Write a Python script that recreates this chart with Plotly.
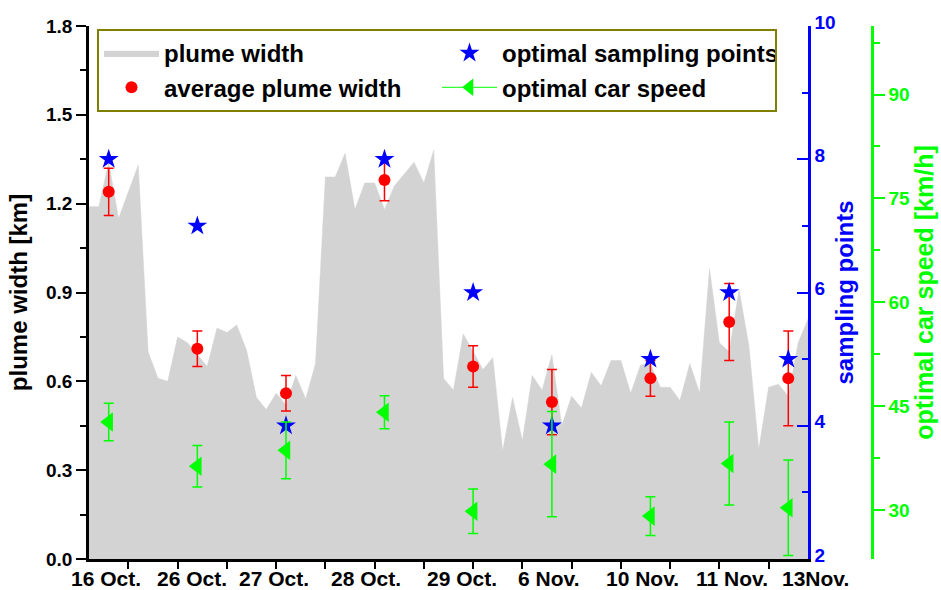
import plotly.graph_objects as go

# Plume width along the measurement track (km), one sample every 0.2 track units
plume_width = [
    1.19, 1.19, 1.34, 1.15, 1.24, 1.33, 0.70, 0.61, 0.60, 0.75,
    0.73, 0.69, 0.65, 0.78, 0.765, 0.79, 0.705, 0.545, 0.505, 0.56,
    0.52, 0.62, 0.54, 0.66, 1.29, 1.29, 1.37, 1.18, 1.27, 1.27,
    1.18, 1.26, 1.30, 1.34, 1.27, 1.38, 0.61, 0.57, 0.76, 0.70,
    0.64, 0.68, 0.365, 0.545, 0.40, 0.62, 0.57, 0.69, 0.45, 0.55,
    0.51, 0.63, 0.585, 0.67, 0.67, 0.56, 0.655, 0.66, 0.58, 0.58,
    0.535, 0.66, 0.56, 0.98, 0.73, 0.70, 0.91, 0.72, 0.37, 0.58,
    0.59, 0.55, 0.73, 0.81,
]
track_x = [round(0.2 * (i + 1), 1) for i in range(len(plume_width))]

# Measurement days
days = ["16 Oct.", "26 Oct.", "27 Oct.", "28 Oct.", "29 Oct.",
        "6 Nov.", "10 Nov.", "11 Nov.", "13Nov."]
day_x = [0.6, 2.4, 4.2, 6.2, 8.0, 9.6, 11.6, 13.2, 14.4]
day_label_x = [0.55, 2.30, 3.96, 5.83, 7.77, 9.53, 11.44, 13.26, 14.95]

avg_width = [1.24, 0.71, 0.56, 1.28, 0.65, 0.53, 0.61, 0.80, 0.61]
avg_width_err = [0.08, 0.06, 0.06, 0.07, 0.07, 0.11, 0.06, 0.13, 0.16]

sampling_points = [8, 7, 4, 8, 6, 4, 5, 6, 5]

car_speed = [42.7, 36.3, 38.6, 44.1, 29.8, 36.6, 29.1, 36.7, 30.3]
car_speed_err = [2.7, 3.0, 4.1, 2.4, 3.2, 7.6, 2.8, 6.0, 6.9]

FONT = "Liberation Sans, Arial, sans-serif"
BLUE = "#0000ff"
GREEN = "#00ff00"
GRAY = "#d3d3d3"

X_RANGE = [0.2, 14.8]
DOM_END = (808 - 89) / 852

fig = go.Figure()

fig.add_trace(go.Scatter(
    x=track_x, y=plume_width, name="plume width",
    mode="lines", fill="tozeroy", fillcolor=GRAY,
    line=dict(color=GRAY, width=0.5), legendrank=1,
))
fig.add_trace(go.Scatter(
    x=day_x, y=car_speed, name="optimal car speed", yaxis="y3",
    mode="markers", showlegend=False, legendgroup="speed",
    marker=dict(symbol="triangle-left", size=17, color=GREEN),
    error_y=dict(type="data", array=car_speed_err, color=GREEN,
                 thickness=1.5, width=5),
))
# legend entry for the speed series: marker on a short line
fig.add_trace(go.Scatter(
    x=[None], y=[None], name="optimal car speed", yaxis="y3",
    mode="lines+markers", legendgroup="speed", legendrank=4,
    line=dict(color=GREEN, width=1),
    marker=dict(symbol="triangle-left", size=15, color=GREEN),
))
fig.add_trace(go.Scatter(
    x=day_x, y=avg_width, name="average plume width",
    mode="markers", legendrank=3,
    marker=dict(symbol="circle", size=12, color="red"),
    error_y=dict(type="data", array=avg_width_err, color="red",
                 thickness=1.5, width=5),
))
fig.add_trace(go.Scatter(
    x=day_x, y=sampling_points, name="optimal sampling points", yaxis="y2",
    mode="markers", legendrank=2,
    marker=dict(symbol="star", size=15, color=BLUE),
))

tick_font = dict(family=FONT, size=19, weight="bold")
title_font = dict(family=FONT, size=24, weight="bold")

# day labels under the track axis (in paper units so the last one may overhang)
for name, xv in zip(days, day_label_x):
    px = DOM_END * (xv - X_RANGE[0]) / (X_RANGE[1] - X_RANGE[0])
    fig.add_annotation(
        x=px, xref="paper", y=0, yref="paper", yshift=-19,
        yanchor="middle", xanchor="center", showarrow=False, text=name,
        borderpad=0,
        font=dict(family=FONT, size=21, weight="bold", color="black"),
    )

fig.update_layout(
    width=941, height=590,
    margin=dict(l=89, r=0, t=26, b=31, autoexpand=False),
    paper_bgcolor="white", plot_bgcolor="white",
    template="none",
    showlegend=True,
    legend=dict(
        orientation="h", x=0.0094, y=0.9944, xanchor="left", yanchor="top",
        bgcolor="white", bordercolor="#808000", borderwidth=2,
        font=dict(family=FONT, size=24, weight="bold", color="black"),
        itemwidth=55, entrywidth=268, entrywidthmode="pixels",
        traceorder="normal", tracegroupgap=0,
    ),
    xaxis=dict(
        domain=[0, DOM_END], range=X_RANGE,
        showgrid=False, zeroline=False,
        showline=True, linecolor="black", linewidth=2.5,
        tick0=0, dtick=1, ticks="outside", ticklen=7, tickwidth=2,
        tickcolor="black", showticklabels=False, automargin=False,
    ),
    xaxis2=dict(
        overlaying="x", matches="x", side="top", anchor="y",
        showgrid=False, zeroline=False,
        showline=True, linecolor="black", linewidth=2,
        tick0=0, dtick=1, ticks="inside", ticklen=4, tickwidth=1.5,
        tickcolor="black", showticklabels=False, automargin=False,
    ),
    yaxis=dict(
        range=[0, 1.8], dtick=0.3, tick0=0, tickformat=".1f",
        showgrid=False, zeroline=False,
        showline=True, linecolor="black", linewidth=2.5,
        ticks="outside", ticklen=10, tickwidth=2, tickcolor="black",
        minor=dict(dtick=0.15, tick0=0, ticks="outside", ticklen=6,
                   tickwidth=2, tickcolor="black"),
        tickfont=dict(color="black", **tick_font),
        title=dict(text="plume width [km]", standoff=12,
                   font=dict(color="black", **title_font)),
        automargin=False,
    ),
    yaxis2=dict(
        overlaying="y", anchor="x", side="right",
        range=[2, 10], dtick=2, tick0=0,
        showgrid=False, zeroline=False,
        showline=True, linecolor=BLUE, linewidth=2.5,
        ticks="inside", ticklen=11, tickwidth=2, tickcolor=BLUE,
        minor=dict(dtick=1, tick0=0, ticks="inside", ticklen=6,
                   tickwidth=2, tickcolor=BLUE),
        tickfont=dict(color=BLUE, **tick_font), ticklabelshift=-4,
        title=dict(text="sampling points", standoff=2,
                   font=dict(color=BLUE, **title_font)),
        automargin=False,
    ),
    yaxis3=dict(
        overlaying="y", anchor="free", side="right",
        position=(872 - 89) / 852,
        range=[22.9, 99.9], dtick=15, tick0=0,
        showgrid=False, zeroline=False,
        showline=True, linecolor=GREEN, linewidth=2.5,
        ticks="outside", ticklen=11, tickwidth=2, tickcolor=GREEN,
        minor=dict(dtick=7.5, tick0=0, ticks="outside", ticklen=6,
                   tickwidth=2, tickcolor=GREEN),
        tickfont=dict(color=GREEN, **tick_font),
        title=dict(text="optimal car speed [km/h]", standoff=6,
                   font=dict(color=GREEN, size=25, family=FONT,
                             weight="bold")),
        automargin=False,
    ),
)

fig.write_html("out.html")
